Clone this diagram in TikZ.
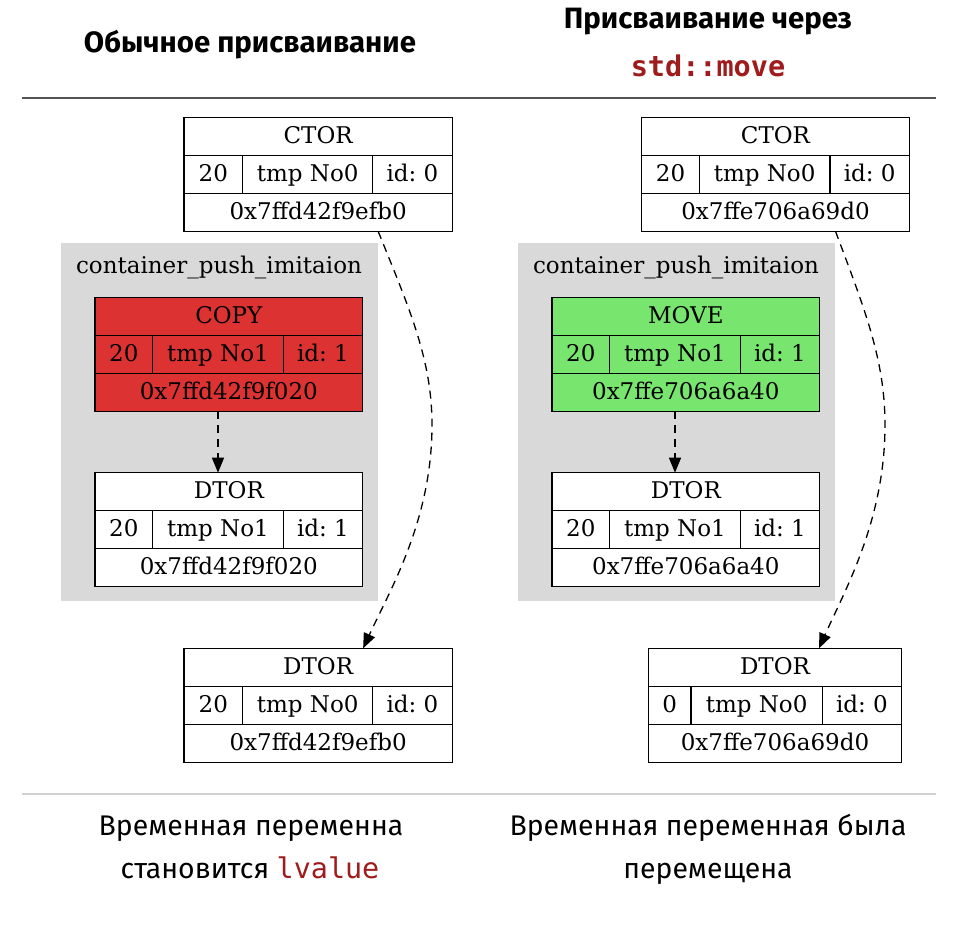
\documentclass[tikz,border=0pt]{standalone}
\usepackage{fontspec}
\setmainfont{DejaVu Serif}
\newfontfamily\headfont{Fira Sans}
\newfontfamily\codefont{DejaVu Sans Mono}
\usetikzlibrary{arrows.meta,calc}
\definecolor{clgray}{HTML}{D9D9D9}
\definecolor{copyred}{HTML}{DC3232}
\definecolor{movegreen}{HTML}{78E66E}
\definecolor{codered}{HTML}{A01C1C}
\definecolor{rulegray}{HTML}{555555}
\definecolor{rulelight}{HTML}{D0D0D0}
\frenchspacing
\tikzset{
  recbox/.style={draw=black, line width=1.2pt, inner sep=0pt, outer sep=0pt},
  recline/.style={draw=black, line width=1.2pt},
  rtxt/.style={font={\fontsize{23}{27}\selectfont}, inner sep=0pt, anchor=base},
  cluster/.style={fill=clgray, draw=none, inner sep=0pt, outer sep=0pt},
  edgearrow/.style={draw=black, line width=1.3pt, dash pattern=on 8pt off 6pt, -{Triangle[length=15pt,width=12pt]}},
  headtxt/.style={font={\headfont\bfseries\fontsize{29.4}{34}\selectfont}, inner sep=0pt},
  codehead/.style={font={\codefont\bfseries\fontsize{28.5}{32}\selectfont}, text=codered, inner sep=0pt},
  bodytxt/.style={font={\headfont\fontsize{28.4}{33}\selectfont}, inner sep=0pt, anchor=base},
}
\newcommand{\recnode}[8]{\def\rn{#1}\def\rxa{#2}\def\rxb{#3}\def\rxc{#4}\def\rxd{#5}\def\ry{#6}\def\rfill{#7}\def\rtitle{#8}\recrest}
\newcommand{\recrest}[4]{%
  \node[recbox, fill=\rfill, minimum width={\rxd-\rxa}, minimum height=114] (\rn) at ({(\rxa+\rxd)/2},{\ry+57}) {};
  \draw[recline] ({\rxa},{\ry+38}) -- ({\rxd},{\ry+38});
  \draw[recline] ({\rxa},{\ry+76}) -- ({\rxd},{\ry+76});
  \draw[recline] ({\rxb},{\ry+38}) -- ({\rxb},{\ry+76});
  \draw[recline] ({\rxc},{\ry+38}) -- ({\rxc},{\ry+76});
  \node[rtxt] (\rn-t) at ({(\rxa+\rxd)/2},{\ry+26}) {\rtitle};
  \node[rtxt] (\rn-a) at ({(\rxa+\rxb)/2},{\ry+64}) {#1};
  \node[rtxt] (\rn-b) at ({(\rxb+\rxc)/2},{\ry+64}) {#2};
  \node[rtxt] (\rn-c) at ({(\rxc+\rxd)/2},{\ry+64}) {#3};
  \node[rtxt] (\rn-d) at ({(\rxa+\rxd)/2},{\ry+102}) {#4};
}
\begin{document}
\begin{tikzpicture}[x=1pt,y=-1pt]
\fill[white] (0,0) rectangle (962,932);
\useasboundingbox (0,0) rectangle (962,932);

% headings
\node[headtxt] (hL) at (250,45) {Обычное присваивание};
\node[headtxt] (hR) at (708,22) {Присваивание через};
\node[codehead] (hRc) at (708,66) {std::move};
\draw[rulegray, line width=2pt] (22,98) -- (936,98);
\draw[rulelight, line width=1.5pt] (22,794) -- (936,794);

% clusters
\node[cluster, minimum width=317, minimum height=358] (clL) at (219.5,422) {};
\node[rtxt] (clL-t) at (219,273) {container\_push\_imitaion};
\node[cluster, minimum width=317, minimum height=358] (clR) at (676.5,422) {};
\node[rtxt] (clR-t) at (676,273) {container\_push\_imitaion};

% left column
\recnode{ctorL}{184}{242.7}{372.7}{452.3}{117.3}{white}{CTOR}{20}{tmp No0}{id: 0}{0x7ffd42f9efb0}
\recnode{copyL}{95}{152.7}{283.3}{362.7}{297.3}{copyred}{COPY}{20}{tmp No1}{id: 1}{0x7ffd42f9f020}
\recnode{dtorIL}{95}{152.7}{283.3}{362.7}{472.7}{white}{DTOR}{20}{tmp No1}{id: 1}{0x7ffd42f9f020}
\recnode{dtorL}{184}{242.7}{372.7}{452.3}{648.3}{white}{DTOR}{20}{tmp No0}{id: 0}{0x7ffd42f9efb0}

% right column
\recnode{ctorR}{641.7}{699.3}{830}{909.3}{117.3}{white}{CTOR}{20}{tmp No0}{id: 0}{0x7ffe706a69d0}
\recnode{moveR}{552}{609.7}{740.3}{819.7}{297.3}{movegreen}{MOVE}{20}{tmp No1}{id: 1}{0x7ffe706a6a40}
\recnode{dtorIR}{552}{609.7}{740.3}{819.7}{472.7}{white}{DTOR}{20}{tmp No1}{id: 1}{0x7ffe706a6a40}
\recnode{dtorR}{648.3}{691}{822.3}{901.7}{648.3}{white}{DTOR}{0}{tmp No0}{id: 0}{0x7ffe706a69d0}

% edges
\draw[edgearrow] (copyL-b |- copyL.south) -- (copyL-b |- dtorIL.north);
\draw[edgearrow] (moveR-b |- moveR.south) -- (moveR-b |- dtorIR.north);
\draw[edgearrow] ([xshift=60pt]ctorL.south) .. controls (410,310) and (432,360) .. (432,425)
  .. controls (432,520) and (390,590) .. ([xshift=45pt]dtorL.north);
\draw[edgearrow] ([xshift=60pt]ctorR.south) .. controls (865,310) and (885,360) .. (885,425)
  .. controls (885,520) and (845,590) .. ([xshift=44pt]dtorR.north);

% bottom captions
\node[bodytxt] (bL1) at (251,835) {Временная переменна};
\node[bodytxt] (bL2) at (250,878) {становится \textcolor{codered}{\codefont lvalue}};
\node[bodytxt] (bR1) at (708,835) {Временная переменная была};
\node[bodytxt] (bR2) at (708,878) {перемещена};
\end{tikzpicture}
\end{document}
